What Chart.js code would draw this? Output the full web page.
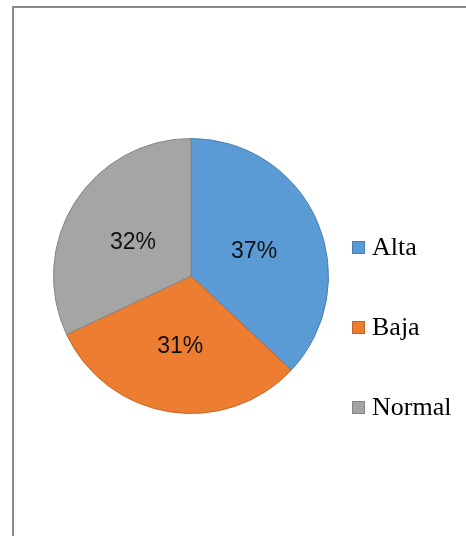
<!DOCTYPE html>
<html>
<head>
<meta charset="utf-8">
<script src="https://cdn.jsdelivr.net/npm/chart.js@4/dist/chart.umd.min.js"></script>
<style>
  html, body { margin: 0; padding: 0; background: #ffffff; overflow: hidden; }
  #frame {
    position: absolute; left: 12px; top: 6px; width: 470px; height: 540px;
    border-left: 2px solid #8a8a8a; border-top: 2px solid #8a8a8a;
  }
  #wrap { position: absolute; left: 0; top: 0; width: 466px; height: 536px; }
</style>
</head>
<body>
<div id="frame"></div>
<div id="wrap"><canvas id="c" width="466" height="536"></canvas></div>
<script>
// Nivel categories and their share (percent)
const categories = ['Alta', 'Baja', 'Normal'];
const shares = [37, 31, 32];
const fillColors = ['#5b9bd5', '#ed7d31', '#a5a5a5'];
const edgeColors = ['#4a7fb0', '#c0652a', '#868686'];

// Percentage text drawn at the middle of every slice
const sliceLabels = {
  id: 'sliceLabels',
  afterDatasetsDraw(chart) {
    const ctx = chart.ctx;
    const meta = chart.getDatasetMeta(0);
    ctx.save();
    ctx.font = '23px "Liberation Sans", Arial, sans-serif';
    ctx.fillStyle = '#111111';
    ctx.textAlign = 'center';
    ctx.textBaseline = 'middle';
    meta.data.forEach((arc, i) => {
      const p = arc.tooltipPosition();
      ctx.fillText(shares[i] + '%', p.x, p.y + 3);
    });
    ctx.restore();
  }
};

// Legend column on the right of the pie
const sideLegend = {
  id: 'sideLegend',
  afterDraw(chart) {
    const ctx = chart.ctx;
    const x0 = chart.chartArea.right + 23;
    const top = 241, step = 80, box = 13;
    ctx.save();
    ctx.font = '26px "Liberation Serif", "Times New Roman", serif';
    ctx.textAlign = 'left';
    ctx.textBaseline = 'middle';
    categories.forEach((name, i) => {
      const y = top + i * step;
      ctx.fillStyle = fillColors[i];
      ctx.fillRect(x0, y, box, box);
      ctx.strokeStyle = edgeColors[i];
      ctx.lineWidth = 1;
      ctx.strokeRect(x0 + 0.5, y + 0.5, box - 1, box - 1);
      ctx.fillStyle = '#000000';
      ctx.fillText(name, x0 + box + 7, y + box / 2 + 1);
    });
    ctx.restore();
  }
};

new Chart(document.getElementById('c'), {
  type: 'pie',
  data: {
    labels: categories,
    datasets: [{
      data: shares,
      backgroundColor: fillColors,
      borderColor: edgeColors,
      borderWidth: 1
    }]
  },
  options: {
    responsive: false,
    animation: false,
    rotation: 0,
    layout: { padding: { left: 53, right: 137, top: 138, bottom: 122 } },
    plugins: {
      legend: { display: false },
      tooltip: { enabled: false }
    }
  },
  plugins: [sliceLabels, sideLegend]
});
</script>
</body>
</html>
